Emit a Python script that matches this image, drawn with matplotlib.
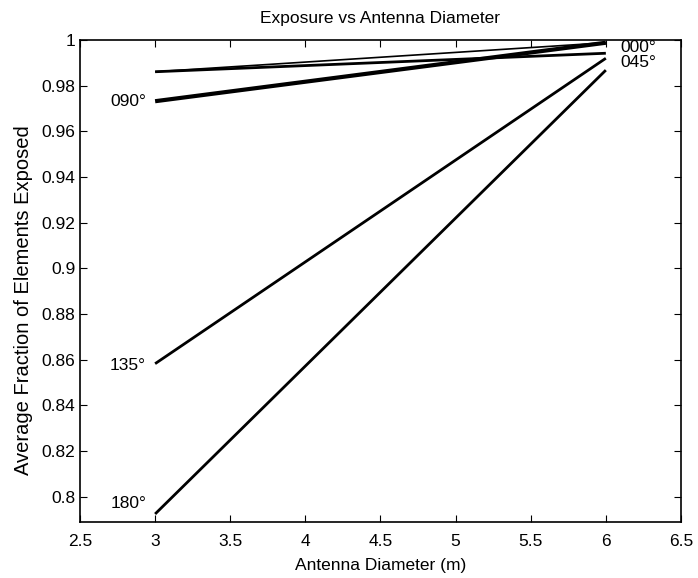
import numpy as np
import matplotlib
matplotlib.use("Agg")
import matplotlib.pyplot as plt
from matplotlib.ticker import FormatStrFormatter, MultipleLocator

plt.rcParams['font.family'] = ['Liberation Sans', 'DejaVu Sans']

# antenna diameters (m)
diameters = [3, 6]

# average fraction of elements exposed, per heading
exp_000 = [0.9861, 0.9988]
exp_045 = [0.9861, 0.9942]
exp_090 = [0.9732, 0.9988]
exp_135 = [0.8583, 0.9920]
exp_180 = [0.7925, 0.9868]

series = [exp_000, exp_045, exp_090, exp_135, exp_180]
widths = [1.2, 2.0, 3.0, 2.0, 2.0]

# heading labels and where they sit
left_labels = ['090°', '135°', '180°']
left_label_y = [0.9732, 0.8575, 0.797]
right_labels = ['000°', '045°']
right_label_y = [0.9965, 0.9900]

fig = plt.figure(figsize=(6.98, 5.78), dpi=100)
ax = fig.add_axes([0.1146, 0.0969, 0.8610, 0.8339])

for s, w in zip(series, widths):
    ax.plot(diameters, s, color='black', linewidth=w, solid_capstyle='butt')

for lab, y in zip(left_labels, left_label_y):
    ax.text(2.94, y, lab, ha='right', va='center', fontsize=12.5)
for lab, y in zip(right_labels, right_label_y):
    ax.text(6.1, y, lab, ha='left', va='center', fontsize=12.5)

ax.set_xlim(2.5, 6.5)
ax.set_ylim(0.789, 1.0)
ax.xaxis.set_major_locator(MultipleLocator(0.5))
ax.yaxis.set_major_locator(MultipleLocator(0.02))
ax.xaxis.set_major_formatter(FormatStrFormatter('%g'))
ax.yaxis.set_major_formatter(FormatStrFormatter('%g'))
ax.tick_params(direction='in', top=True, right=True, length=5, labelsize=12.5)
ax.tick_params(axis='x', pad=9)
for sp in ax.spines.values():
    sp.set_linewidth(1.2)

ax.set_title('Exposure vs Antenna Diameter', fontsize=12.5, pad=12)
ax.set_xlabel('Antenna Diameter (m)', fontsize=12.5, labelpad=6)
ax.set_ylabel('Average Fraction of Elements Exposed', fontsize=14.5)
ax.yaxis.set_label_coords(-0.078, 0.46)

fig.savefig('out.png', dpi=100)
